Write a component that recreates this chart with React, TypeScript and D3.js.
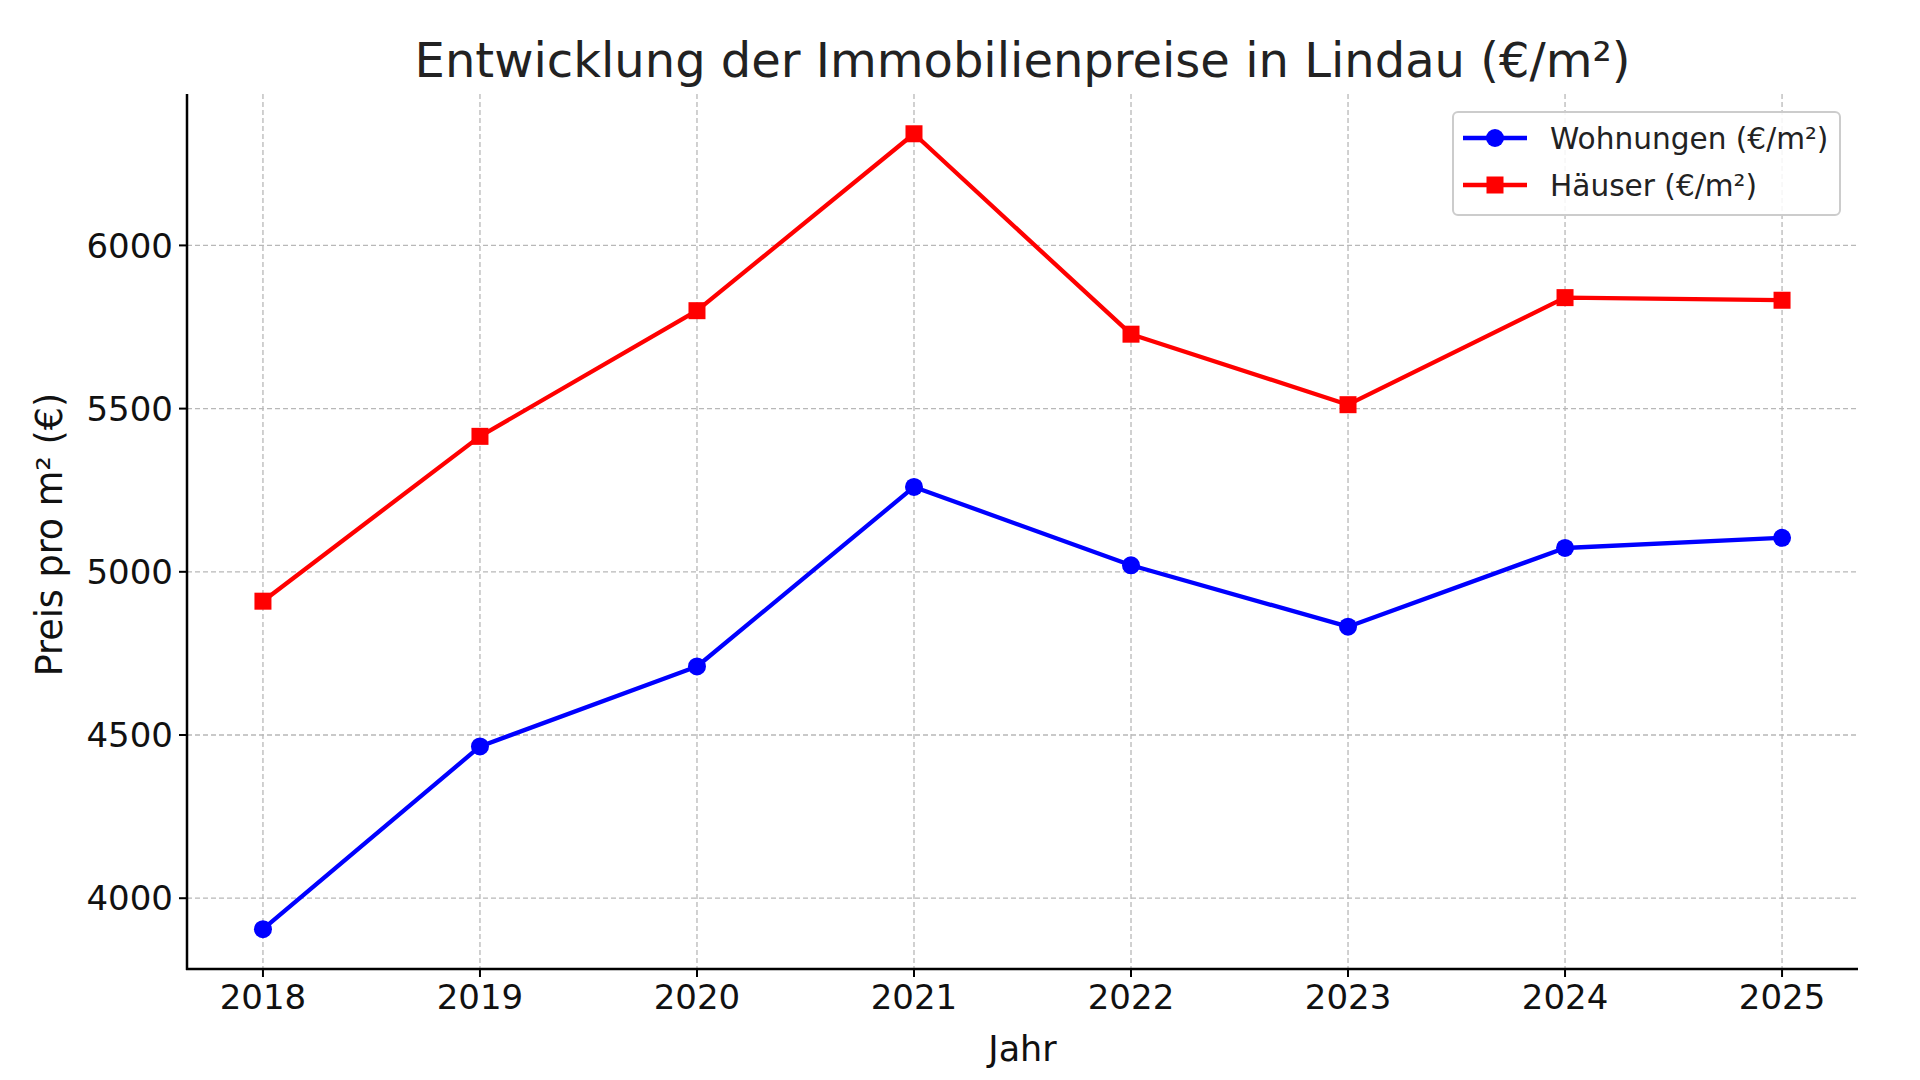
import React from 'react';
import * as d3 from 'd3';

const years = [2018, 2019, 2020, 2021, 2022, 2023, 2024, 2025];
const wohnungen = [3905, 4465, 4710, 5260, 5020, 4832, 5073, 5104];
const haeuser = [4910, 5415, 5800, 6342, 5728, 5512, 5840, 5832];
const yTicks = [4000, 4500, 5000, 5500, 6000];

const title = 'Entwicklung der Immobilienpreise in Lindau (€/m²)';
const xLabel = 'Jahr';
const yLabel = 'Preis pro m² (€)';
const seriesNames = ['Wohnungen (€/m²)', 'Häuser (€/m²)'];

const W = 1920;
const H = 1080;
const m = { left: 187, right: 1858, top: 94, bottom: 969 };
const font = 'DejaVu Sans, Verdana, sans-serif';

const App = () => {
  // matplotlib-style 5% margins around the data
  const xPad = (d3.max(years)! - d3.min(years)!) * 0.05;
  const x = d3
    .scaleLinear()
    .domain([d3.min(years)! - xPad, d3.max(years)! + xPad])
    .range([m.left, m.right]);

  const all = [...wohnungen, ...haeuser];
  const yMin = d3.min(all)!;
  const yMax = d3.max(all)!;
  const yPad = (yMax - yMin) * 0.05;
  const y = d3
    .scaleLinear()
    .domain([yMin - yPad, yMax + yPad])
    .range([m.bottom, m.top]);

  const line = d3
    .line<number>()
    .x((_, i) => x(years[i]))
    .y((d) => y(d));

  const series = [
    { name: seriesNames[0], values: wohnungen, color: '#0000ff', marker: 'circle' },
    { name: seriesNames[1], values: haeuser, color: '#ff0000', marker: 'square' },
  ];

  const marker = (kind: string, cx: number, cy: number, color: string, key: string | number) =>
    kind === 'circle' ? (
      <circle key={key} cx={cx} cy={cy} r={9} fill={color} />
    ) : (
      <rect key={key} x={cx - 8.5} y={cy - 8.5} width={17} height={17} fill={color} />
    );

  const legend = { x: 1453, y: 112, w: 387, h: 103 };

  return (
    <svg
      width={W}
      height={H}
      style={{ position: 'absolute', left: 0, top: 0, background: '#fff' }}
      fontFamily={font}
    >
      {/* grid */}
      <g stroke="#b8b8b8" strokeWidth={1.3} strokeDasharray="5,3">
        {years.map((yr) => (
          <line key={'gx' + yr} x1={x(yr)} x2={x(yr)} y1={m.top} y2={m.bottom} />
        ))}
        {yTicks.map((t) => (
          <line key={'gy' + t} x1={m.left} x2={m.right} y1={y(t)} y2={y(t)} />
        ))}
      </g>

      {/* series */}
      {series.map((s) => (
        <g key={s.name}>
          <path d={line(s.values) || ''} fill="none" stroke={s.color} strokeWidth={4.3} strokeLinejoin="round" />
          {s.values.map((v, i) => marker(s.marker, x(years[i]), y(v), s.color, i))}
        </g>
      ))}

      {/* axes */}
      <g stroke="#000" strokeWidth={2.5}>
        <line x1={m.left} x2={m.left} y1={m.top} y2={m.bottom + 1} />
        <line x1={m.left - 1} x2={m.right} y1={m.bottom} y2={m.bottom} />
        {yTicks.map((t) => (
          <line key={'ty' + t} x1={m.left - 8} x2={m.left} y1={y(t)} y2={y(t)} strokeWidth={2} />
        ))}
        {years.map((yr) => (
          <line key={'tx' + yr} x1={x(yr)} x2={x(yr)} y1={m.bottom} y2={m.bottom + 8} strokeWidth={2} />
        ))}
      </g>

      <g fontSize={34} fill="#111">
        {yTicks.map((t) => (
          <text key={'ly' + t} x={m.left - 14} y={y(t)} dy="0.36em" textAnchor="end">
            {t}
          </text>
        ))}
        {years.map((yr) => (
          <text key={'lx' + yr} x={x(yr)} y={m.bottom + 40} textAnchor="middle">
            {yr}
          </text>
        ))}
      </g>

      {/* labels */}
      <text x={(m.left + m.right) / 2} y={1061} textAnchor="middle" fontSize={35} fill="#111">
        {xLabel}
      </text>
      <text
        transform={`translate(62,${(m.top + m.bottom) / 2 + 3}) rotate(-90)`}
        textAnchor="middle"
        fontSize={36.5}
        fill="#111"
      >
        {yLabel}
      </text>
      <text x={(m.left + m.right) / 2} y={77} textAnchor="middle" fontSize={48} fill="#222">
        {title}
      </text>

      {/* legend */}
      <rect
        x={legend.x}
        y={legend.y}
        width={legend.w}
        height={legend.h}
        rx={5}
        fill="#fff"
        fillOpacity={0.85}
        stroke="#cccccc"
        strokeWidth={2}
      />
      {series.map((s, i) => {
        const ly = 138 + i * 47;
        return (
          <g key={'leg' + s.name}>
            <line x1={1463} x2={1527} y1={ly} y2={ly} stroke={s.color} strokeWidth={4.3} />
            {marker(s.marker, 1495, ly, s.color, 'm')}
            <text x={1550} y={ly} dy="0.36em" fontSize={29.6} fill="#222">
              {s.name}
            </text>
          </g>
        );
      })}
    </svg>
  );
};

export default App;
